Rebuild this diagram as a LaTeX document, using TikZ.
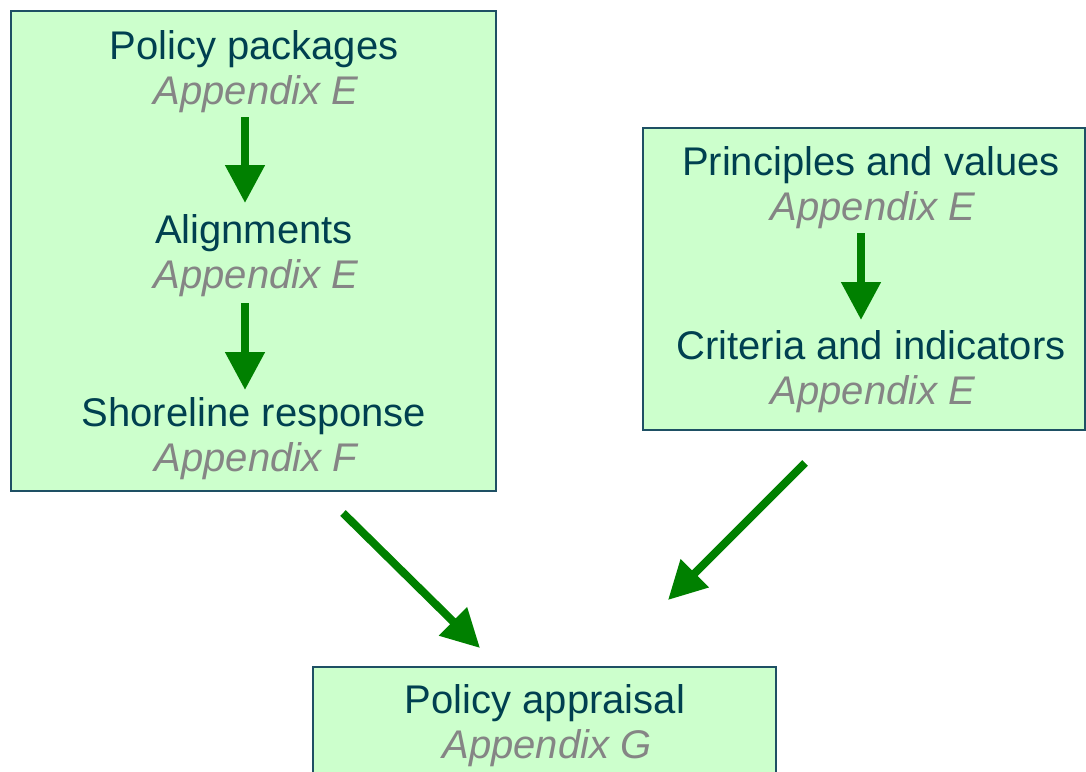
\documentclass[tikz,border=0pt]{standalone}
\usepackage{fontspec}
\setmainfont{Liberation Sans}
\usetikzlibrary{arrows.meta}
\definecolor{boxfill}{HTML}{CCFFCC}
\definecolor{boxline}{HTML}{1E5064}
\definecolor{titletext}{HTML}{004050}
\definecolor{apptext}{HTML}{858585}
\definecolor{arrowgreen}{HTML}{008000}
\tikzset{
  panel/.style={draw=boxline, fill=boxfill, line width=1.6pt, inner sep=0pt, outer sep=0pt},
  title/.style={anchor=base, text=titletext, font=\fontsize{40}{45}\selectfont, inner sep=0pt},
  appx/.style={anchor=base, text=apptext, font=\fontsize{40}{45}\selectfont\itshape, inner sep=0pt},
  bigarrow/.style={draw=arrowgreen, line width=8pt, -{Triangle[length=38pt,width=38pt]}},
}
\begin{document}
\begin{tikzpicture}[x=1pt,y=-1pt]
\useasboundingbox[fill=white] (0,0) rectangle (1086,771);
% boxes
\draw[panel] (11,11) rectangle (496,491);
\draw[panel] (643,128) rectangle (1085,430);
\draw[panel] (313,667) rectangle (776,790);
% left box texts
\node[title] (pp) at (254,59) {Policy packages};
\node[appx] (ppa) at (256,104) {Appendix E};
\node[title] (al) at (254,243) {Alignments};
\node[appx] (ala) at (256,288) {Appendix E};
\node[title] (sr) at (254,426) {Shoreline response};
\node[appx] (sra) at (256,471) {Appendix F};
% right box texts
\node[title] (pv) at (871,175) {Principles and values};
\node[appx] (pva) at (873,220) {Appendix E};
\node[title] (ci) at (871,359) {Criteria and indicators};
\node[appx] (cia) at (873,404) {Appendix E};
% bottom box texts
\node[title] (pa) at (545,713) {Policy appraisal};
\node[appx] (paa) at (547,758) {Appendix G};
% arrow endpoints
\coordinate (a1s) at (245,117);
\coordinate (a1e) at (245,203);
\coordinate (a2s) at (245,303);
\coordinate (a2e) at (245,390);
\coordinate (a3s) at (861,233);
\coordinate (a3e) at (861,320);
\coordinate (a4s) at (343,513);
\coordinate (a4e) at (480,648);
\coordinate (a5s) at (805,463);
\coordinate (a5e) at (668,600);
\draw[bigarrow] (a1s) -- (a1e);
\draw[bigarrow] (a2s) -- (a2e);
\draw[bigarrow] (a3s) -- (a3e);
\draw[bigarrow] (a4s) -- (a4e);
\draw[bigarrow] (a5s) -- (a5e);
\end{tikzpicture}
\end{document}
